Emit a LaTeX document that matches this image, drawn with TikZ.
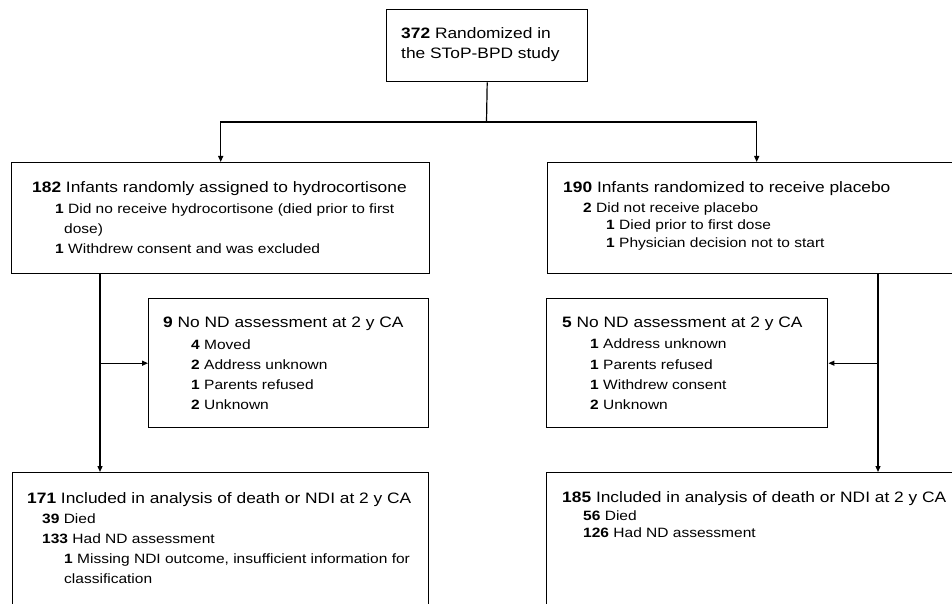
\documentclass[tikz,border=0pt]{standalone}
\usepackage{fontspec}
\setmainfont{Liberation Sans}[FakeStretch=1.15]
\usepackage{tikz}
\usetikzlibrary{arrows.meta,calc,positioning}

\tikzset{
    box/.style={draw, line width=1.4pt, anchor=north west, inner sep=0pt, minimum width=418pt},
    headline/.style={anchor=base west, inner sep=0pt, font=\fontsize{15.1}{18}\selectfont},
    subline/.style={anchor=base west, inner sep=0pt, font=\fontsize{13.5}{16}\selectfont},
    conn/.style={line width=1.2pt},
    arr/.style={conn, -{Triangle[length=6pt,width=5pt]}}
}

\begin{document}
\begin{tikzpicture}[x=1pt,y=-1pt]
    \useasboundingbox (0,0) rectangle (952,604);
    \clip (0,0) rectangle (952,604);

    % boxes
    \node[box, minimum width=201pt, minimum height=72pt] (rand) at (386,9) {};
    \node[box, minimum height=111pt] (hydro) at (11,162) {};
    \node[box, minimum height=111pt] (plac) at (547,162) {};
    \node[box, minimum width=280pt, minimum height=129pt] (nondh) at (148,298) {};
    \node[box, minimum width=281pt, minimum height=129pt] (nondp) at (546,298) {};
    \node[box, minimum width=416pt, minimum height=150pt] (inclh) at (12,472) {};
    \node[box, minimum height=150pt] (inclp) at (546,472) {};

    % connectors
    \coordinate (split) at (486.5,122);
    \coordinate (hcol) at (100,0);
    \coordinate (pcol) at (878,0);
    \draw[conn] (rand.south) -- (split);
    \draw[arr] (split) -| (hydro.north);
    \draw[arr] (split) -| (plac.north);
    \draw[arr] (hcol |- hydro.south) -- (hcol |- inclh.north);
    \draw[arr] (hcol |- nondh.west) -- (nondh.west);
    \draw[arr] (pcol |- plac.south) -- (pcol |- inclp.north);
    \draw[arr] (pcol |- nondp.east) -- (nondp.east);

    % texts
    \node[headline] (randA) at (401,39) {\textbf{372} Randomized in};
    \node[headline] (randB) at (401,59) {the SToP-BPD study};

    \node[headline] (hydroH) at (32,193) {\textbf{182} Infants randomly assigned to hydrocortisone};
    \foreach \xx/\yy/\txt [count=\i] in {
        55/213/{\textbf{1} Did no receive hydrocortisone (died prior to first},
        64/233/{dose)},
        55/253/{\textbf{1} Withdrew consent and was excluded}}
        \node[subline] (hydroL\i) at (\xx,\yy) {\txt};

    \node[headline] (placH) at (563,193) {\textbf{190} Infants randomized to receive placebo};
    \foreach \xx/\yy/\txt [count=\i] in {
        583/212/{\textbf{2} Did not receive placebo},
        606/229.5/{\textbf{1} Died prior to first dose},
        606/247/{\textbf{1} Physician decision not to start}}
        \node[subline] (placL\i) at (\xx,\yy) {\txt};

    \node[headline] (nondhH) at (163,327) {\textbf{9} No ND assessment at 2 y CA};
    \foreach \yy/\txt [count=\i] in {
        349/{\textbf{4} Moved},
        369/{\textbf{2} Address unknown},
        389/{\textbf{1} Parents refused},
        409/{\textbf{2} Unknown}}
        \node[subline] (nondhL\i) at (191,\yy) {\txt};

    \node[headline] (nondpH) at (562,327) {\textbf{5} No ND assessment at 2 y CA};
    \foreach \yy/\txt [count=\i] in {
        348/{\textbf{1} Address unknown},
        369/{\textbf{1} Parents refused},
        389/{\textbf{1} Withdrew consent},
        409/{\textbf{2} Unknown}}
        \node[subline] (nondpL\i) at (590,\yy) {\txt};

    \node[headline] (inclhH) at (27,503) {\textbf{171} Included in analysis of death or NDI at 2 y CA};
    \foreach \xx/\yy/\txt [count=\i] in {
        42/523/{\textbf{39} Died},
        42/543/{\textbf{133} Had ND assessment},
        64/563/{\textbf{1} Missing NDI outcome, insufficient information for},
        64/583/{classification}}
        \node[subline] (inclhL\i) at (\xx,\yy) {\txt};

    \node[headline] (inclpH) at (562,502) {\textbf{185} Included in analysis of death or NDI at 2 y CA};
    \foreach \yy/\txt [count=\i] in {
        520/{\textbf{56} Died},
        537/{\textbf{126} Had ND assessment}}
        \node[subline] (inclpL\i) at (583,\yy) {\txt};
\end{tikzpicture}
\end{document}
